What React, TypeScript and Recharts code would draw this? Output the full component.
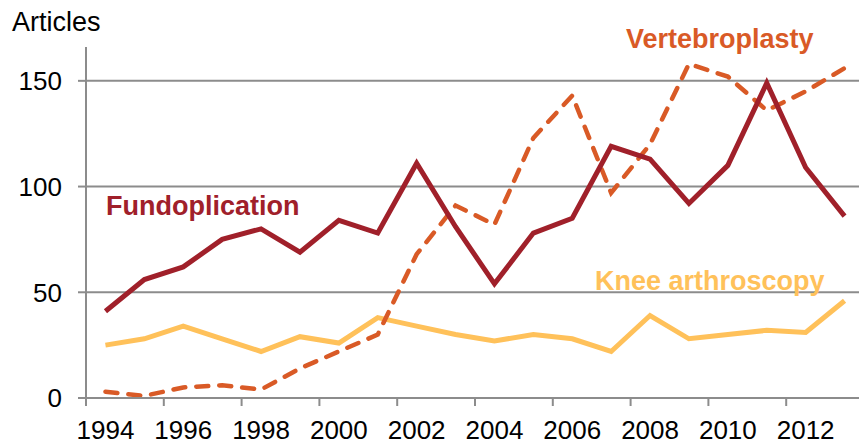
import React from 'react';
import { LineChart, Line, XAxis, YAxis, CartesianGrid } from 'recharts';

const years = [1994, 1995, 1996, 1997, 1998, 1999, 2000, 2001, 2002, 2003, 2004, 2005, 2006, 2007, 2008, 2009, 2010, 2011, 2012, 2013];
const fundoplication = [41, 56, 62, 75, 80, 69, 84, 78, 111, 81, 54, 78, 85, 119, 113, 92, 110, 149, 109, 86];
const vertebroplasty = [3, 1, 5, 6, 4, 14, 22, 30, 68, 91, 82, 123, 143, 97, 120, 158, 152, 136, 145, 156];
const kneeArthroscopy = [25, 28, 34, 28, 22, 29, 26, 38, 34, 30, 27, 30, 28, 22, 39, 28, 30, 32, 31, 46];

const yearTicks = [1994, 1996, 1998, 2000, 2002, 2004, 2006, 2008, 2010, 2012];
const boundaryTicks = [1993.5, 1994.5, 1995.5, 1996.5, 1997.5, 1998.5, 1999.5, 2000.5, 2001.5, 2002.5, 2003.5, 2004.5, 2005.5, 2006.5, 2007.5, 2008.5, 2009.5, 2010.5, 2011.5, 2012.5, 2013.5];
const yTicks = [0, 50, 100, 150];

const data = years.map((year, i) => ({
  year,
  fundoplication: fundoplication[i],
  vertebroplasty: vertebroplasty[i],
  knee: kneeArthroscopy[i],
}));

const FONT = '"Liberation Sans", Arial, sans-serif';
const GRID = '#8c8c8c';
const axisStroke = { stroke: GRID, strokeWidth: 2 };

// tick marks only, no text
const NoLabel = () => <g />;

export default function App() {
  return (
    <div style={{ position: 'absolute', left: 0, top: 0, width: 859, height: 442, overflow: 'hidden', background: '#fff', fontFamily: FONT }}>
      <LineChart width={866} height={442} data={data} margin={{ top: 47, right: 2, bottom: 0, left: 0 }}>
        <CartesianGrid vertical={false} stroke={GRID} strokeWidth={2} horizontalValues={[50, 100, 150]} />
        <XAxis
          xAxisId="marks"
          type="number"
          dataKey="year"
          domain={[1993.5, 2013.5]}
          ticks={boundaryTicks}
          tick={<NoLabel />}
          tickSize={8}
          height={1}
          axisLine={axisStroke}
          tickLine={axisStroke}
          allowDataOverflow
        />
        <XAxis
          xAxisId="yr"
          type="number"
          dataKey="year"
          domain={[1993.5, 2013.5]}
          ticks={yearTicks}
          axisLine={false}
          tickLine={false}
          tickMargin={16}
          height={43}
          tick={{ fill: '#000', fontSize: 26, fontFamily: FONT }}
          allowDataOverflow
        />
        <YAxis
          type="number"
          domain={[0, 166]}
          ticks={yTicks}
          width={86}
          tickSize={8}
          tickMargin={16}
          axisLine={axisStroke}
          tickLine={axisStroke}
          tick={{ fill: '#000', fontSize: 26, fontFamily: FONT }}
          allowDataOverflow
        />
        <Line xAxisId="marks" type="linear" dataKey="knee" stroke="#FFC15A" strokeWidth={5} dot={false} isAnimationActive={false} />
        <Line xAxisId="yr" type="linear" dataKey="vertebroplasty" stroke="#D95A26" strokeWidth={4.5} strokeDasharray="12 11" strokeLinecap="round" dot={false} isAnimationActive={false} />
        <Line xAxisId="yr" type="linear" dataKey="fundoplication" stroke="#A0202A" strokeWidth={5} dot={false} isAnimationActive={false} />
      </LineChart>
      <svg width={859} height={442} style={{ position: 'absolute', left: 0, top: 0, pointerEvents: 'none' }}>
        <text x={12} y={31} fontSize={27} fontFamily={FONT} fill="#000">Articles</text>
        <text x={106} y={215} fontSize={27} fontWeight="bold" fontFamily={FONT} fill="#A0202A">Fundoplication</text>
        <text x={626} y={47.5} fontSize={27} fontWeight="bold" fontFamily={FONT} fill="#D95A26">Vertebroplasty</text>
        <text x={595} y={289.5} fontSize={27} fontWeight="bold" fontFamily={FONT} fill="#FFC15A">Knee arthroscopy</text>
      </svg>
    </div>
  );
}
